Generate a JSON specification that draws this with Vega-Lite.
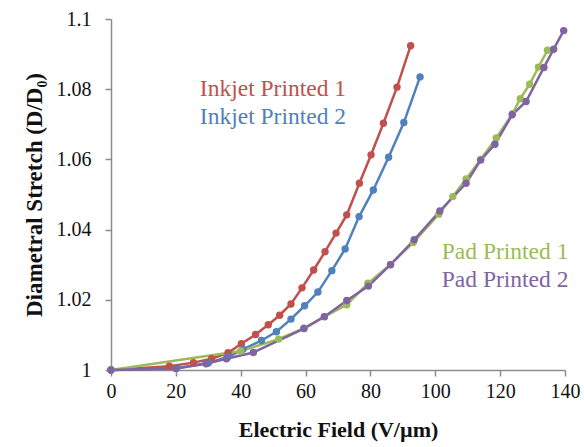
{
  "$schema": "https://vega.github.io/schema/vega-lite/v6.json",
  "width": 454,
  "height": 351,
  "autosize": {"type": "none"},
  "padding": {"left": 111, "top": 19, "right": 19, "bottom": 77},
  "background": "white",
  "config": {
    "view": {"stroke": null},
    "font": "Liberation Serif",
    "axis": {"grid": false, "domainColor": "#8c8c8c", "tickColor": "#8c8c8c", "domainWidth": 1.5, "tickWidth": 1.5, "tickSize": 6, "labelFlush": false,
      "labelFont": "Liberation Serif", "labelFontSize": 20, "labelColor": "#111", "titleFont": "Liberation Serif", "titleFontSize": 22, "titleFontWeight": "bold", "titleColor": "#111"}
  },
  "datasets": {
    "series": [
      {"series": "Inkjet Printed 1", "field": 0, "stretch": 1},
      {"series": "Inkjet Printed 1", "field": 18, "stretch": 1.0011},
      {"series": "Inkjet Printed 1", "field": 25.4, "stretch": 1.0021},
      {"series": "Inkjet Printed 1", "field": 31, "stretch": 1.0032},
      {"series": "Inkjet Printed 1", "field": 36.1, "stretch": 1.0049},
      {"series": "Inkjet Printed 1", "field": 40.2, "stretch": 1.0075},
      {"series": "Inkjet Printed 1", "field": 44.6, "stretch": 1.0101},
      {"series": "Inkjet Printed 1", "field": 48.5, "stretch": 1.0129},
      {"series": "Inkjet Printed 1", "field": 52, "stretch": 1.0156},
      {"series": "Inkjet Printed 1", "field": 55.5, "stretch": 1.0188},
      {"series": "Inkjet Printed 1", "field": 58.9, "stretch": 1.0234},
      {"series": "Inkjet Printed 1", "field": 62.5, "stretch": 1.0285},
      {"series": "Inkjet Printed 1", "field": 66, "stretch": 1.0337},
      {"series": "Inkjet Printed 1", "field": 69.4, "stretch": 1.039},
      {"series": "Inkjet Printed 1", "field": 72.7, "stretch": 1.0442},
      {"series": "Inkjet Printed 1", "field": 76.6, "stretch": 1.0532},
      {"series": "Inkjet Printed 1", "field": 80.2, "stretch": 1.0613},
      {"series": "Inkjet Printed 1", "field": 84, "stretch": 1.0703},
      {"series": "Inkjet Printed 1", "field": 88.2, "stretch": 1.0806},
      {"series": "Inkjet Printed 1", "field": 92.4, "stretch": 1.0924},
      {"series": "Inkjet Printed 2", "field": 0, "stretch": 1},
      {"series": "Inkjet Printed 2", "field": 20.2, "stretch": 1.0005},
      {"series": "Inkjet Printed 2", "field": 30, "stretch": 1.002},
      {"series": "Inkjet Printed 2", "field": 36, "stretch": 1.0037},
      {"series": "Inkjet Printed 2", "field": 40.7, "stretch": 1.0059},
      {"series": "Inkjet Printed 2", "field": 46.4, "stretch": 1.0084},
      {"series": "Inkjet Printed 2", "field": 51, "stretch": 1.0109},
      {"series": "Inkjet Printed 2", "field": 55.5, "stretch": 1.0145},
      {"series": "Inkjet Printed 2", "field": 59.7, "stretch": 1.0183},
      {"series": "Inkjet Printed 2", "field": 63.8, "stretch": 1.0222},
      {"series": "Inkjet Printed 2", "field": 68.1, "stretch": 1.0283},
      {"series": "Inkjet Printed 2", "field": 72.2, "stretch": 1.0345},
      {"series": "Inkjet Printed 2", "field": 76.5, "stretch": 1.0437},
      {"series": "Inkjet Printed 2", "field": 80.9, "stretch": 1.0513},
      {"series": "Inkjet Printed 2", "field": 85.6, "stretch": 1.0606},
      {"series": "Inkjet Printed 2", "field": 90.3, "stretch": 1.0705},
      {"series": "Inkjet Printed 2", "field": 95.3, "stretch": 1.0835},
      {"series": "Pad Printed 1", "field": 0, "stretch": 1},
      {"series": "Pad Printed 1", "field": 40, "stretch": 1.0054},
      {"series": "Pad Printed 1", "field": 51.7, "stretch": 1.0088},
      {"series": "Pad Printed 1", "field": 59.5, "stretch": 1.0119},
      {"series": "Pad Printed 1", "field": 65.8, "stretch": 1.0152},
      {"series": "Pad Printed 1", "field": 72.7, "stretch": 1.0186},
      {"series": "Pad Printed 1", "field": 79.2, "stretch": 1.0247},
      {"series": "Pad Printed 1", "field": 86.2, "stretch": 1.0301},
      {"series": "Pad Printed 1", "field": 93.2, "stretch": 1.0363},
      {"series": "Pad Printed 1", "field": 101.1, "stretch": 1.0444},
      {"series": "Pad Printed 1", "field": 105.4, "stretch": 1.0494},
      {"series": "Pad Printed 1", "field": 109.5, "stretch": 1.0544},
      {"series": "Pad Printed 1", "field": 114, "stretch": 1.06},
      {"series": "Pad Printed 1", "field": 118.8, "stretch": 1.0661},
      {"series": "Pad Printed 1", "field": 123.8, "stretch": 1.073},
      {"series": "Pad Printed 1", "field": 126.2, "stretch": 1.0773},
      {"series": "Pad Printed 1", "field": 129.1, "stretch": 1.0814},
      {"series": "Pad Printed 1", "field": 131.8, "stretch": 1.0863},
      {"series": "Pad Printed 1", "field": 134.6, "stretch": 1.0911},
      {"series": "Pad Printed 2", "field": 0, "stretch": 1},
      {"series": "Pad Printed 2", "field": 20, "stretch": 1.0004},
      {"series": "Pad Printed 2", "field": 29.3, "stretch": 1.0018},
      {"series": "Pad Printed 2", "field": 35.6, "stretch": 1.0032},
      {"series": "Pad Printed 2", "field": 43.9, "stretch": 1.005},
      {"series": "Pad Printed 2", "field": 59.5, "stretch": 1.0118},
      {"series": "Pad Printed 2", "field": 65.8, "stretch": 1.0152},
      {"series": "Pad Printed 2", "field": 72.7, "stretch": 1.0198},
      {"series": "Pad Printed 2", "field": 79.4, "stretch": 1.0239},
      {"series": "Pad Printed 2", "field": 86.2, "stretch": 1.03},
      {"series": "Pad Printed 2", "field": 93.5, "stretch": 1.0371},
      {"series": "Pad Printed 2", "field": 101.4, "stretch": 1.0453},
      {"series": "Pad Printed 2", "field": 109.5, "stretch": 1.0532},
      {"series": "Pad Printed 2", "field": 114, "stretch": 1.0598},
      {"series": "Pad Printed 2", "field": 118.4, "stretch": 1.0643},
      {"series": "Pad Printed 2", "field": 123.7, "stretch": 1.0727},
      {"series": "Pad Printed 2", "field": 128, "stretch": 1.0765},
      {"series": "Pad Printed 2", "field": 133.5, "stretch": 1.0862},
      {"series": "Pad Printed 2", "field": 136.5, "stretch": 1.0914},
      {"series": "Pad Printed 2", "field": 139.6, "stretch": 1.0967}
    ],
    "labels": [
      {"series": "Inkjet Printed 1", "field": 27.4, "stretch": 1.0801},
      {"series": "Inkjet Printed 2", "field": 27.4, "stretch": 1.0721},
      {"series": "Pad Printed 1", "field": 102, "stretch": 1.0336},
      {"series": "Pad Printed 2", "field": 102, "stretch": 1.0256}
    ]
  },
  "layer": [
    {
      "data": {"name": "series"},
      "mark": {"type": "line", "strokeWidth": 2.5, "point": {"filled": true, "size": 55, "opacity": 1}},
      "encoding": {
        "x": {"field": "field", "type": "quantitative", "scale": {"domain": [0, 140], "nice": false}, "axis": {"values": [0, 20, 40, 60, 80, 100, 120, 140], "title": "Electric Field (V/µm)", "labelPadding": 5, "titlePadding": 18}},
        "y": {"field": "stretch", "type": "quantitative", "scale": {"domain": [1, 1.1], "nice": false, "zero": false}, "axis": {"values": [1, 1.02, 1.04, 1.06, 1.08, 1.1], "format": ".4~g", "title": "Diametral Stretch (D/D₀)", "titleFontSize": 23, "labelPadding": 14, "titlePadding": 10}},
        "color": {"field": "series", "type": "nominal", "scale": {"domain": ["Inkjet Printed 1", "Inkjet Printed 2", "Pad Printed 1", "Pad Printed 2"], "range": ["#C0504D", "#4F81BD", "#9BBB59", "#8064A2"]}, "legend": null}
      }
    },
    {
      "data": {"name": "labels"},
      "mark": {"type": "text", "align": "left", "baseline": "middle", "fontSize": 23.5, "font": "Liberation Serif"},
      "encoding": {
        "x": {"field": "field", "type": "quantitative"},
        "y": {"field": "stretch", "type": "quantitative"},
        "text": {"field": "series"},
        "color": {"field": "series", "type": "nominal", "legend": null}
      }
    }
  ]
}
